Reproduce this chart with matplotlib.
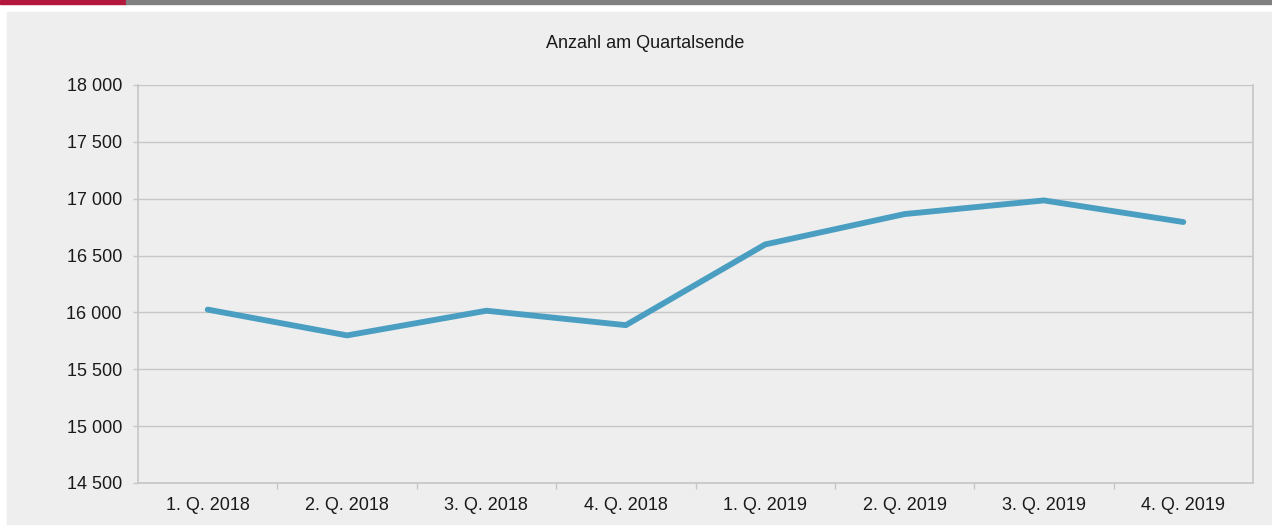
import matplotlib.pyplot as plt
import matplotlib.patches as patches
from matplotlib.ticker import FuncFormatter

# Data
quarters = ['1. Q. 2018', '2. Q. 2018', '3. Q. 2018', '4. Q. 2018',
            '1. Q. 2019', '2. Q. 2019', '3. Q. 2019', '4. Q. 2019']
anzahl = [16025, 15798, 16015, 15888, 16598, 16865, 16985, 16795]
y_ticks = [14500, 15000, 15500, 16000, 16500, 17000, 17500, 18000]

plt.rcParams['font.family'] = ['Liberation Sans', 'DejaVu Sans']

W, H = 1272, 525
fig = plt.figure(figsize=(W / 100, H / 100), dpi=100)
fig.patch.set_facecolor('white')

# Panel background and top bar
fig.patches.append(patches.Rectangle((7 / W, 0), 1 - 7 / W, 1 - 12 / H,
                                     transform=fig.transFigure, color='#edeeed', zorder=-2))
fig.patches.append(patches.Rectangle((0, 1 - 4 / H), 126 / W, 4 / H,
                                     transform=fig.transFigure, color='#b5173c', zorder=-1))
fig.patches.append(patches.Rectangle((126 / W, 1 - 4 / H), 1 - 126 / W, 4 / H,
                                     transform=fig.transFigure, color='#808080', zorder=-1))

left, right, top, bottom = 138, 1253, 85, 483
ax = fig.add_axes([left / W, 1 - bottom / H, (right - left) / W, (bottom - top) / H])
ax.set_zorder(2)
ax.set_facecolor('#edeeed')

x = range(len(quarters))
ax.plot(x, anzahl, color='#4a9ec2', linewidth=4.2, solid_capstyle='round',
        solid_joinstyle='round', zorder=3)

ax.set_xlim(-0.5, len(quarters) - 0.5)
ax.set_ylim(14500, 18000)
ax.set_yticks(y_ticks)
ax.yaxis.set_major_formatter(FuncFormatter(lambda v, p: f'{int(v):,}'.replace(',', ' ')))
ax.grid(axis='y', color='#c6c6c6', linewidth=1)
ax.set_axisbelow(True)

# category labels centered, ticks at boundaries
ax.set_xticks([i + 0.5 for i in range(len(quarters) - 1)])
ax.set_xticklabels([])
ax.set_xticks(list(x), minor=True)
ax.set_xticklabels(quarters, minor=True)
ax.tick_params(axis='x', which='minor', length=0, pad=10)
ax.tick_params(axis='x', which='major', length=4, color='#c6c6c6', width=1)
ax.tick_params(axis='y', length=3.6, color='#c6c6c6', width=1, pad=8)
ax.tick_params(axis='both', which='both', labelsize=13, labelcolor='#1a1a1a')

for side in ['left', 'bottom', 'right']:
    ax.spines[side].set_color('#c6c6c6')
    ax.spines[side].set_linewidth(1.2)
ax.spines['top'].set_visible(False)

fig.text(645 / W, 1 - 44 / H, 'Anzahl am Quartalsende', ha='center', va='center',
         fontsize=13, color='#1a1a1a')

fig.savefig('out.png', dpi=100)
